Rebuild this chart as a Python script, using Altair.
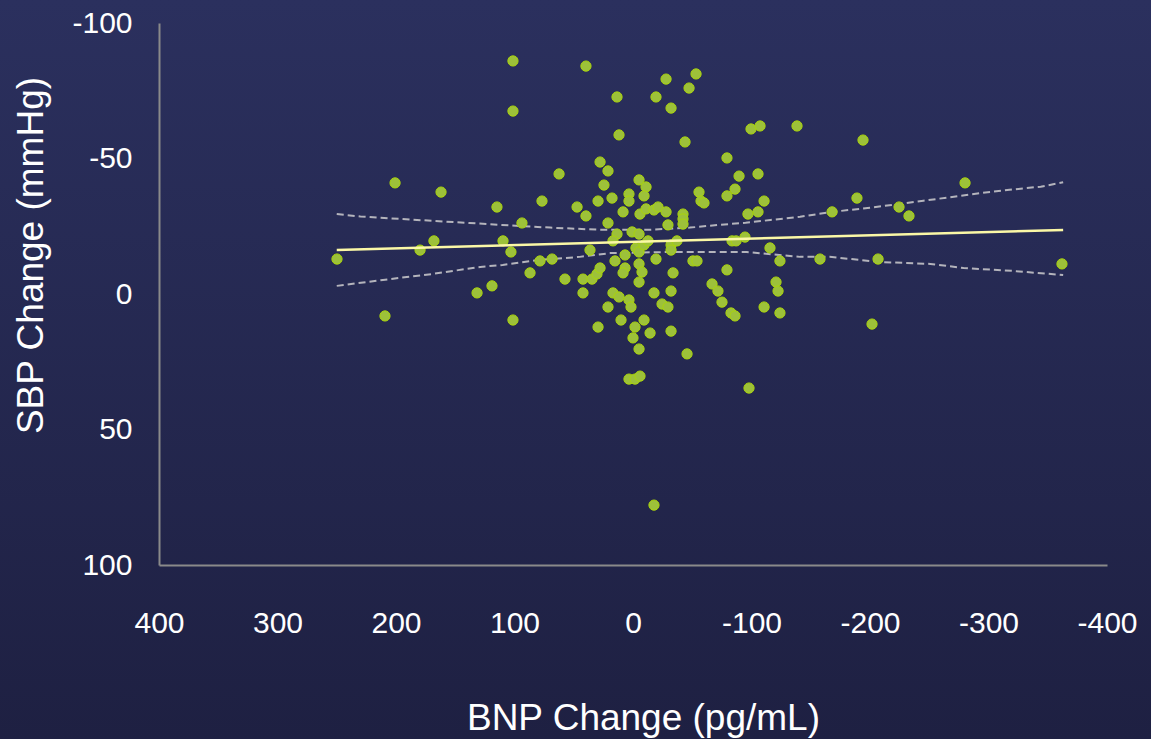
import altair as alt
import pandas as pd

# ---- data ----
bnp_change = [
    249.8, 200.8, 162.0, 179.7, 168.0, 131.6, 209.3, 119.0, 101.3, 114.8,
    109.7, 103.0, 93.7, 86.9, 101.3, 101.3, 39.7, 76.8, 78.5, 68.3,
    62.4, 57.4, 47.2, 39.7, 42.2, 42.2, 34.6, 30.4, 27.8, 36.3,
    29.5, 27.8, 21.1, 24.5, 29.5, 21.1, 21.1, 17.7, 13.5, 11.8,
    13.5, 16.9, 15.2, 16.9, 11.8, 10.1, 8.4, 6.7, 6.7, 8.4,
    3.4, 3.4, 3.4, 1.7, 3.4, -1.7, -5.9, 0.8, -5.1, -2.5,
    -5.1, -9.3, -12.7, -5.1, -7.6, -5.1, -1.7, 0.0, -5.1, -9.3,
    -14.4, -5.1, -11.0, -9.3, -5.9, -11.0, -17.7, -21.1, -27.9, -19.4,
    -27.9, -17.7, -17.7, -19.4, -24.5, -29.5, -32.1, -32.1, -32.1, -32.1,
    -37.1, -33.8, -29.5, -42.2, -42.2, -42.2, -32.1, -47.3, -53.2, -43.9,
    -45.6, -50.6, -54.0, -55.7, -57.4, -59.9, -66.7, -71.7, -75.1, -82.7,
    -86.1, -79.3, -79.3, -89.5, -86.1, -79.3, -83.6, -87.0, -94.5, -99.6,
    -107.2, -105.5, -110.6, -97.0, -105.5, -97.9, -115.6, -124.0, -120.7, -122.4,
    -110.6, -124.0, -138.4, -194.1, -280.2, -189.0, -168.0, -224.5, -232.9, -157.8,
    -206.8, -362.0, -201.7,
]
sbp_change = [
    -12.9, -41.0, -37.6, -16.2, -19.6, -0.4, 8.1, -3.0, 9.6, -32.1,
    -19.6, -15.5, -26.2, -7.8, -86.0, -67.5, -84.1, -34.3, -12.2, -12.9,
    -44.3, -5.5, -32.1, -28.8, -5.5, -0.4, -5.5, -7.4, -9.6, -16.2,
    -34.3, -48.7, -45.4, -40.2, 12.2, 4.8, -26.2, -35.4, -72.7, -58.7,
    -22.1, -19.6, -12.2, -0.4, 1.1, 9.6, -30.3, -14.4, -9.6, -7.8,
    -36.9, -34.3, 2.2, 4.8, 31.4, 31.4, 30.3, -22.9, -22.1, -17.0,
    -15.5, -18.1, -19.6, -11.1, -8.1, -4.4, 12.2, 16.2, 20.3, 9.6,
    14.4, -42.1, -39.5, -36.2, -29.5, -31.4, -31.0, -32.1, -30.3, -72.7,
    -79.3, -0.4, 77.9, -12.9, 3.7, 4.8, -1.1, 13.7, -18.1, -16.2,
    -19.6, -7.8, -25.5, -29.5, -27.7, -25.8, -68.6, -76.0, -81.2, -56.1,
    22.1, -12.2, -12.2, -37.6, -34.3, -33.6, -3.7, -1.1, 3.0, 7.0,
    8.1, -8.9, -50.2, -43.5, -38.7, -36.2, -19.6, -19.6, -21.0, -60.9,
    -62.0, -44.3, -34.3, -29.5, -30.3, 34.7, -17.0, -12.2, -4.4, -1.1,
    4.8, 7.0, -62.0, -56.8, -41.0, -35.4, -30.3, -32.1, -28.8, -12.9,
    -12.9, -11.1, 11.1,
]

fit_bnp = [250, -363]
fit_sbp = [-16.2, -23.6]

upper_bnp = [250, 230, 197, 169, 138, 112, 70, 28, -14, -48, -73, -95, -116,
             -141, -168, -203, -245, -293, -321, -344, -363]
upper_sbp = [-29.5, -28.6, -27.7, -27.0, -26.2, -25.5, -24.5, -23.7, -23.7, -24.5,
             -25.5, -26.3, -27.3, -28.5, -30.3, -32.0, -34.4, -37.2, -38.6, -39.6, -41.2]
lower_bnp = [250, 211, 169, 129, 110, 81, 45, 19, -31, -96, -141, -166, -208,
             -251, -279, -321, -363]
lower_sbp = [-3.0, -5.2, -7.4, -10.0, -10.7, -12.5, -13.7, -15.1, -15.5, -15.5,
             -13.7, -13.7, -11.8, -11.1, -9.6, -8.5, -7.0]

x_ticks = [400, 300, 200, 100, 0, -100, -200, -300, -400]
y_ticks = [-100, -50, 0, 50, 100]

x_title = "BNP Change (pg/mL)"
y_title = "SBP Change (mmHg)"

# ---- layout ----
W, H = 948, 542
PAD = {"left": 159, "top": 23, "right": 44, "bottom": 174}
FONT = "Liberation Sans, Arial, sans-serif"

pts = pd.DataFrame({"bnp": bnp_change, "sbp": sbp_change})
fit = pd.DataFrame({"bnp": fit_bnp, "sbp": fit_sbp})
bands = pd.concat([
    pd.DataFrame({"bnp": upper_bnp, "sbp": upper_sbp, "band": "upper"}),
    pd.DataFrame({"bnp": lower_bnp, "sbp": lower_sbp, "band": "lower"}),
], ignore_index=True)
bgdf = pd.DataFrame({"a": [0]})

xscale = alt.Scale(domain=[-400, 400], reverse=True, nice=False, zero=False)
yscale = alt.Scale(domain=[-100, 100], reverse=True, nice=False, zero=False)

xaxis = alt.Axis(
    values=x_ticks, title=x_title, grid=False, ticks=False, zindex=1,
    domainColor="#8a8a8a", domainWidth=2,
    labelColor="white", labelFont=FONT, labelFontSize=30, labelPadding=43,
    labelExpr="'' + datum.value", labelFlush=False, labelOverlap=False,
    titleColor="white", titleFont=FONT, titleFontSize=37, titleFontWeight="normal",
    titleX=484, titleY=164, titleBaseline="alphabetic", titleAlign="center",
)
yaxis = alt.Axis(
    values=y_ticks, title=y_title, grid=False, ticks=False, zindex=1,
    domainColor="#8a8a8a", domainWidth=2,
    labelColor="white", labelFont=FONT, labelFontSize=30, labelPadding=27,
    labelExpr="'' + datum.value", labelFlush=False, labelOverlap=False,
    titleColor="white", titleFont=FONT, titleFontSize=37, titleFontWeight="normal",
    titleX=-117, titleY=232, titleBaseline="alphabetic", titleAlign="center",
    titleAngle=270,
)

background = alt.Chart(bgdf).mark_rect(
    color=alt.LinearGradient(
        gradient="linear",
        stops=[alt.GradientStop(color="#2b305e", offset=0),
               alt.GradientStop(color="#1e2042", offset=1)],
        x1=0, x2=0, y1=0, y2=1,
    )
).encode(
    x=alt.value(-PAD["left"]), x2=alt.value(W + PAD["right"]),
    y=alt.value(-PAD["top"]), y2=alt.value(H + PAD["bottom"]),
)

band_lines = alt.Chart(bands).mark_line(
    color="#b4b4bc", strokeDash=[7, 4], strokeWidth=2
).encode(
    x=alt.X("bnp:Q", scale=xscale, axis=xaxis),
    y=alt.Y("sbp:Q", scale=yscale, axis=yaxis),
    detail="band:N",
)

points = alt.Chart(pts).mark_circle(
    size=105, fill="#9dc13a", stroke="#aad40c", strokeWidth=1, opacity=1
).encode(
    x=alt.X("bnp:Q", scale=xscale, axis=xaxis),
    y=alt.Y("sbp:Q", scale=yscale, axis=yaxis),
)

fit_line = alt.Chart(fit).mark_line(color="#fbf8a6", strokeWidth=2.5).encode(
    x=alt.X("bnp:Q", scale=xscale, axis=xaxis),
    y=alt.Y("sbp:Q", scale=yscale, axis=yaxis),
)

chart = alt.layer(background, band_lines, points, fit_line).properties(
    width=W, height=H, padding=PAD, autosize=alt.AutoSizeParams(type="none"),
    background="#1f2143",
).configure_view(stroke=None)

chart.save("out.html", embed_options={"renderer": "svg", "actions": False})
